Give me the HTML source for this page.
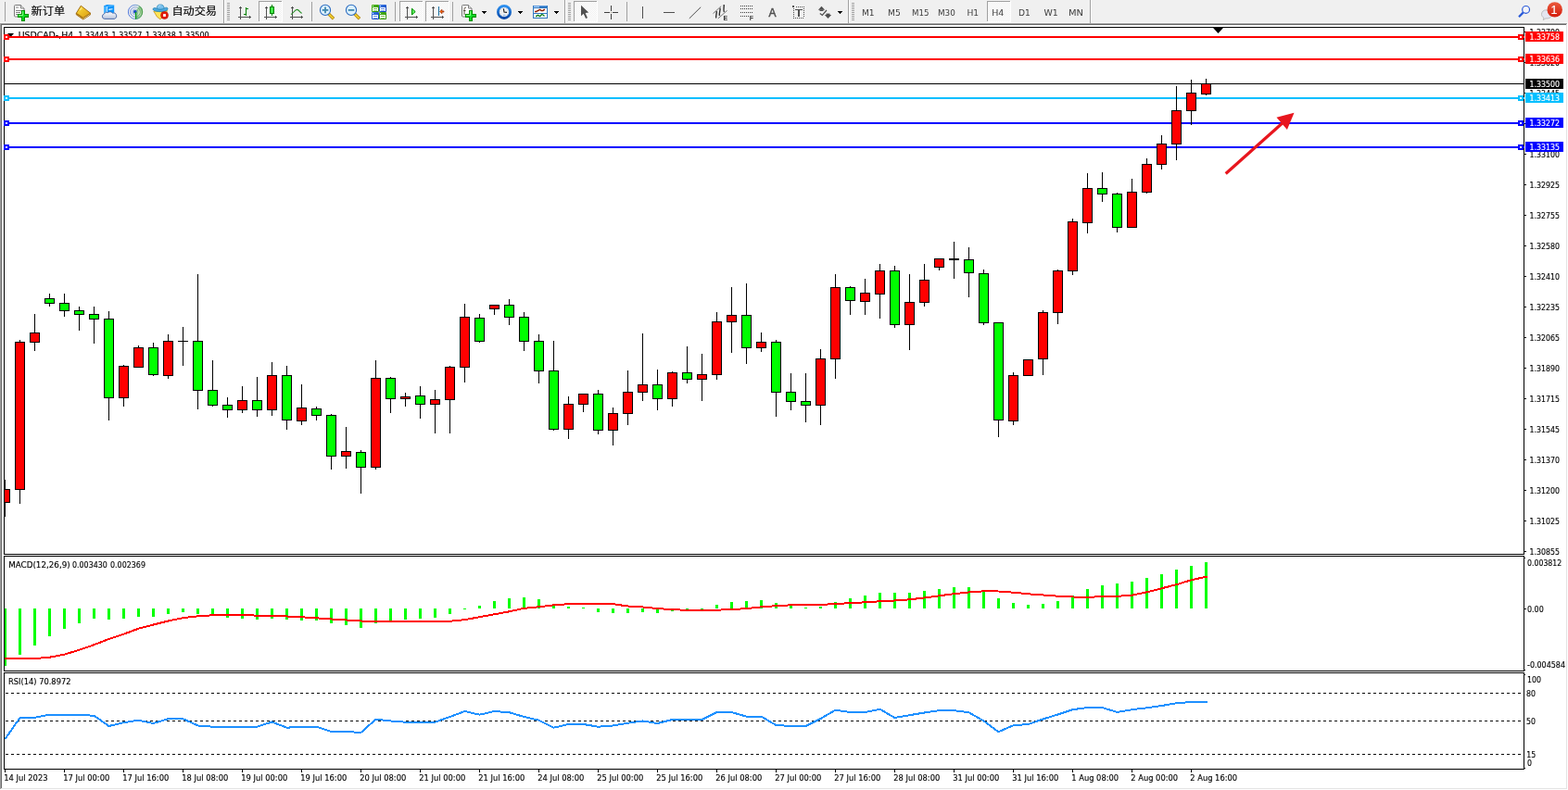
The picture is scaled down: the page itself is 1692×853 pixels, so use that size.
<!DOCTYPE html>
<html lang="zh"><head><meta charset="utf-8"><title>USDCAD,H4</title>
<style>html,body{margin:0;padding:0;background:#fff;overflow:hidden}svg{display:block}text{font-family:"DejaVu Sans","Liberation Sans",sans-serif;white-space:pre;stroke-width:0.14px}.cj{font-family:"Liberation Sans","Noto Sans CJK SC",sans-serif}.ls{font-family:"Liberation Sans",sans-serif;stroke:none}.la{font-family:"Liberation Sans",sans-serif;stroke-width:0.5px}.l1{font-family:"Liberation Sans",sans-serif;stroke-width:0.15px}</style>
</head><body>
<svg width="1692" height="853" viewBox="0 0 1692 853" shape-rendering="crispEdges">
<defs><clipPath id="cm"><rect x="5" y="30" width="1639" height="568"/></clipPath><clipPath id="cd"><rect x="5" y="601" width="1639" height="123"/></clipPath><clipPath id="cr"><rect x="5" y="727" width="1639" height="103"/></clipPath></defs>
<rect x="0" y="0" width="1692" height="853" fill="#fff"/>
<g id="toolbar">
<defs><linearGradient id="gp" x1="0" y1="0" x2="1" y2="1"><stop offset="0" stop-color="#9cff9c"/><stop offset="0.5" stop-color="#18e830"/><stop offset="1" stop-color="#00b818"/></linearGradient><linearGradient id="gold" x1="0" y1="0" x2="1" y2="1"><stop offset="0" stop-color="#ffe040"/><stop offset="1" stop-color="#d89a10"/></linearGradient><linearGradient id="cloud" x1="0" y1="0" x2="0" y2="1"><stop offset="0" stop-color="#ffffff"/><stop offset="1" stop-color="#b8c4dc"/></linearGradient><linearGradient id="badge" x1="0" y1="0" x2="0" y2="1"><stop offset="0" stop-color="#ea5a3c"/><stop offset="1" stop-color="#d41c0c"/></linearGradient><linearGradient id="clk" x1="0" y1="0" x2="0" y2="1"><stop offset="0" stop-color="#2c90f0"/><stop offset="1" stop-color="#0848a8"/></linearGradient><linearGradient id="tb" x1="0" y1="0" x2="1" y2="1"><stop offset="0" stop-color="#4080e8"/><stop offset="1" stop-color="#0838b8"/></linearGradient><linearGradient id="tg" x1="0" y1="0" x2="1" y2="1"><stop offset="0" stop-color="#50b818"/><stop offset="1" stop-color="#2c8c08"/></linearGradient><radialGradient id="sig" cx="0.5" cy="0.5" r="0.5"><stop offset="0" stop-color="#e8f4e0"/><stop offset="1" stop-color="#58b050"/></radialGradient><linearGradient id="ring" x1="0" y1="0" x2="1" y2="0"><stop offset="0" stop-color="#3060d8"/><stop offset="0.55" stop-color="#6090d0"/><stop offset="1" stop-color="#489848"/></linearGradient><pattern id="dith" width="2" height="2" patternUnits="userSpaceOnUse"><rect width="2" height="2" fill="#fff"/><rect width="1" height="1" fill="#f0f0f0"/><rect x="1" y="1" width="1" height="1" fill="#f0f0f0"/></pattern></defs>
<rect x="0" y="0" width="1692" height="25" fill="#f0f0f0"/>
<rect x="0" y="24" width="1692" height="1" fill="#f8f8f8"/>
<rect x="5" y="2" width="1" height="21" fill="#a0a0a0"/>
<rect x="336" y="2" width="1" height="21" fill="#a0a0a0"/>
<rect x="426" y="2" width="1" height="21" fill="#a0a0a0"/>
<rect x="488" y="2" width="1" height="21" fill="#a0a0a0"/>
<rect x="676" y="2" width="1" height="21" fill="#a0a0a0"/>
<rect x="241" y="0" width="1" height="25" fill="#a0a0a0"/>
<rect x="242" y="0" width="1" height="25" fill="#fff"/>
<rect x="245" y="3" width="3" height="1" fill="#a0a0a0"/>
<rect x="245" y="5" width="3" height="1" fill="#a0a0a0"/>
<rect x="245" y="7" width="3" height="1" fill="#a0a0a0"/>
<rect x="245" y="9" width="3" height="1" fill="#a0a0a0"/>
<rect x="245" y="11" width="3" height="1" fill="#a0a0a0"/>
<rect x="245" y="13" width="3" height="1" fill="#a0a0a0"/>
<rect x="245" y="15" width="3" height="1" fill="#a0a0a0"/>
<rect x="245" y="17" width="3" height="1" fill="#a0a0a0"/>
<rect x="245" y="19" width="3" height="1" fill="#a0a0a0"/>
<rect x="245" y="21" width="3" height="1" fill="#a0a0a0"/>
<rect x="609" y="0" width="1" height="25" fill="#a0a0a0"/>
<rect x="610" y="0" width="1" height="25" fill="#fff"/>
<rect x="613" y="3" width="3" height="1" fill="#a0a0a0"/>
<rect x="613" y="5" width="3" height="1" fill="#a0a0a0"/>
<rect x="613" y="7" width="3" height="1" fill="#a0a0a0"/>
<rect x="613" y="9" width="3" height="1" fill="#a0a0a0"/>
<rect x="613" y="11" width="3" height="1" fill="#a0a0a0"/>
<rect x="613" y="13" width="3" height="1" fill="#a0a0a0"/>
<rect x="613" y="15" width="3" height="1" fill="#a0a0a0"/>
<rect x="613" y="17" width="3" height="1" fill="#a0a0a0"/>
<rect x="613" y="19" width="3" height="1" fill="#a0a0a0"/>
<rect x="613" y="21" width="3" height="1" fill="#a0a0a0"/>
<rect x="915" y="0" width="1" height="25" fill="#a0a0a0"/>
<rect x="916" y="0" width="1" height="25" fill="#fff"/>
<rect x="919" y="3" width="3" height="1" fill="#a0a0a0"/>
<rect x="919" y="5" width="3" height="1" fill="#a0a0a0"/>
<rect x="919" y="7" width="3" height="1" fill="#a0a0a0"/>
<rect x="919" y="9" width="3" height="1" fill="#a0a0a0"/>
<rect x="919" y="11" width="3" height="1" fill="#a0a0a0"/>
<rect x="919" y="13" width="3" height="1" fill="#a0a0a0"/>
<rect x="919" y="15" width="3" height="1" fill="#a0a0a0"/>
<rect x="919" y="17" width="3" height="1" fill="#a0a0a0"/>
<rect x="919" y="19" width="3" height="1" fill="#a0a0a0"/>
<rect x="919" y="21" width="3" height="1" fill="#a0a0a0"/>
<rect x="1176" y="0" width="1" height="25" fill="#a0a0a0"/>
<rect x="1177" y="0" width="1" height="25" fill="#fff"/>
<rect x="279" y="1" width="26" height="23" fill="url(#dith)"/>
<rect x="279" y="1" width="25" height="1" fill="#a0a0a0"/>
<rect x="279" y="1" width="1" height="22" fill="#a0a0a0"/>
<rect x="304" y="1" width="1" height="23" fill="#fff"/>
<rect x="279" y="23" width="26" height="1" fill="#fff"/>
<rect x="431" y="1" width="26" height="23" fill="url(#dith)"/>
<rect x="431" y="1" width="25" height="1" fill="#a0a0a0"/>
<rect x="431" y="1" width="1" height="22" fill="#a0a0a0"/>
<rect x="456" y="1" width="1" height="23" fill="#fff"/>
<rect x="431" y="23" width="26" height="1" fill="#fff"/>
<rect x="459" y="1" width="26" height="23" fill="url(#dith)"/>
<rect x="459" y="1" width="25" height="1" fill="#a0a0a0"/>
<rect x="459" y="1" width="1" height="22" fill="#a0a0a0"/>
<rect x="484" y="1" width="1" height="23" fill="#fff"/>
<rect x="459" y="23" width="26" height="1" fill="#fff"/>
<rect x="619" y="1" width="26" height="23" fill="url(#dith)"/>
<rect x="619" y="1" width="25" height="1" fill="#a0a0a0"/>
<rect x="619" y="1" width="1" height="22" fill="#a0a0a0"/>
<rect x="644" y="1" width="1" height="23" fill="#fff"/>
<rect x="619" y="23" width="26" height="1" fill="#fff"/>
<rect x="1065" y="1" width="26" height="23" fill="url(#dith)"/>
<rect x="1065" y="1" width="25" height="1" fill="#a0a0a0"/>
<rect x="1065" y="1" width="1" height="22" fill="#a0a0a0"/>
<rect x="1090" y="1" width="1" height="23" fill="#fff"/>
<rect x="1065" y="23" width="26" height="1" fill="#fff"/>
<g shape-rendering="geometricPrecision"><path d="M15.5 6.5a1 1 0 0 1 1-1h6l3.5 3.5v8a1 1 0 0 1-1 1h-8.5a1 1 0 0 1-1-1z" fill="#fff" stroke="#787878" stroke-width="1"/><path d="M22.5 5.5v3.5h3.5" fill="#e8e8e8" stroke="#808080" stroke-width="1"/>
<path d="M17 8h3M17 11.5h6M17 13.5h5M17 15.5h3" fill="none" stroke="#808080" stroke-width="1"/>
</g>
<rect x="23" y="11" width="4" height="12" fill="#009000"/>
<rect x="19" y="15" width="12" height="4" fill="#009000"/>
<rect x="24" y="12" width="2" height="10" fill="#10e028"/>
<rect x="20" y="16" width="10" height="2" fill="#10e028"/>
<rect x="24" y="12" width="1" height="4" fill="#80ff80"/>
<rect x="20" y="16" width="4" height="1" fill="#80ff80"/>
<rect x="24" y="16" width="1" height="1" fill="#80ff80"/>
<rect x="25" y="19" width="1" height="3" fill="#00c018"/>
<rect x="27" y="17" width="3" height="1" fill="#00c018"/>
<g shape-rendering="geometricPrecision"><path d="M498.5 6.5a1 1 0 0 1 1-1h6l3.5 3.5v8a1 1 0 0 1-1 1h-8.5a1 1 0 0 1-1-1z" fill="#fff" stroke="#787878" stroke-width="1"/><path d="M505.5 5.5v3.5h3.5" fill="#e8e8e8" stroke="#808080" stroke-width="1"/>
<path d="M503 8c-1.8 0-2 1-2 2.5v5.5M500 11.5h2.5" fill="none" stroke="#484030" stroke-width="0.9"/>
</g>
<rect x="506" y="11" width="4" height="12" fill="#009000"/>
<rect x="502" y="15" width="12" height="4" fill="#009000"/>
<rect x="507" y="12" width="2" height="10" fill="#10e028"/>
<rect x="503" y="16" width="10" height="2" fill="#10e028"/>
<rect x="507" y="12" width="1" height="4" fill="#80ff80"/>
<rect x="503" y="16" width="4" height="1" fill="#80ff80"/>
<rect x="507" y="16" width="1" height="1" fill="#80ff80"/>
<rect x="508" y="19" width="1" height="3" fill="#00c018"/>
<rect x="510" y="17" width="3" height="1" fill="#00c018"/>
<text class="cj" x="33.6" y="16.1" font-size="11.3" fill="#000" stroke="#000" stroke-width="0.2" textLength="36.6" lengthAdjust="spacingAndGlyphs">新订单</text>
<g shape-rendering="geometricPrecision"><path d="M82.3 15.8L89.8 21L97.5 15.9L97.5 14.3L89.8 19.3L82.3 14.3z" fill="#d8b048" stroke="#9c6408" stroke-width="0.9" stroke-linejoin="round"/><path d="M89.8 20.2L97.3 15.2" stroke="#f4ecc0" stroke-width="0.7"/><path d="M87.3 6.2L97.6 14.2L89.8 19.3L82.3 14.3z" fill="url(#gold)" stroke="#9c6408" stroke-width="0.9" stroke-linejoin="round"/><path d="M86 11L88.5 8.5" stroke="#fff4a0" stroke-width="1.2" opacity="0.7"/></g>
<g shape-rendering="geometricPrecision"><path d="M112 6.2L115.5 5L123.2 5.6V14.5H112z" fill="#0c94fc"/><path d="M112 6.2L115.5 7.2V14.5H112z" fill="#48b4ff"/><path d="M115.5 7.2L123.2 5.6" stroke="#80ccff" stroke-width="0.7"/><path d="M115.5 7v7.5" stroke="#e0f4ff" stroke-width="0.8"/><path d="M117.3 10.4L121.5 9.7" stroke="#f0f8ff" stroke-width="1.1"/><path d="M112.8 20.4a2.7 2.7 0 0 1-0.4-5.3a3 3 0 0 1 4.2-1.5a3.1 3.1 0 0 1 4.7 0.5a2.6 2.6 0 0 1 2.3 6.3z" fill="url(#cloud)" stroke="#4464a4" stroke-width="0.9"/></g>
<g shape-rendering="geometricPrecision" fill="none"><path d="M146 12.9L146 20.9A8 8 0 0 0 150.6 6.3z" fill="url(#sig)" opacity="0.9"/><circle cx="146" cy="12.9" r="7.6" stroke="url(#ring)" stroke-width="1" opacity="0.85"/><circle cx="146" cy="12.9" r="5.3" stroke="url(#ring)" stroke-width="1" opacity="0.7"/><circle cx="146" cy="12.9" r="3.1" stroke="url(#ring)" stroke-width="0.9" opacity="0.55"/><circle cx="145.8" cy="12.7" r="1.9" fill="#2050c8"/><path d="M146.5 13v7.7" stroke="#10a010" stroke-width="1.2"/></g>
<g shape-rendering="geometricPrecision"><path d="M165.8 12L180.6 11.6L177 17L172.9 20.8L169.5 18.2z" fill="#ffe458" stroke="#c89010" stroke-width="0.8" stroke-linejoin="round"/><path d="M165.1 9.8C165.3 8.3 167.5 8.3 169.3 9.3C171.5 10.3 175 10.2 177 9C178.8 7.9 180.8 7.8 181 9.2C181.3 11.3 177.5 12.6 173.2 12.6C168.9 12.6 164.9 11.6 165.1 9.8z" fill="#4ca8e0" stroke="#2080b0" stroke-width="0.8"/><path d="M169.3 9.3C169.1 6.2 170.6 4.9 173.1 4.9C175.6 4.9 177.1 6.2 177 9C175 10.2 171.5 10.3 169.3 9.3z" fill="#78c0ee" stroke="#2484b4" stroke-width="0.7"/><path d="M170.9 7.3C171.4 6.3 172.3 5.9 173.4 6" fill="none" stroke="#c4e8fc" stroke-width="0.9"/><circle cx="177.5" cy="16.5" r="4" fill="#e41c08" stroke="#b41000" stroke-width="0.6"/><rect x="176.1" y="15.1" width="2.8" height="2.8" fill="#fff"/></g>
<text class="cj" x="185.4" y="16.1" font-size="11.3" fill="#000" stroke="#000" stroke-width="0.2" textLength="48.6" lengthAdjust="spacingAndGlyphs">自动交易</text>
<rect x="259" y="8" width="1" height="13" fill="#505050"/>
<rect x="257" y="18" width="13" height="1" fill="#505050"/>
<rect x="258" y="8" width="3" height="1" fill="#505050"/>
<rect x="259" y="7" width="1" height="1" fill="#505050"/>
<rect x="269" y="17" width="1" height="3" fill="#505050"/>
<rect x="270" y="18" width="1" height="1" fill="#505050"/>
<rect x="265" y="8" width="1" height="9" fill="#008000"/>
<rect x="266" y="9" width="2" height="1" fill="#008000"/>
<rect x="263" y="15" width="2" height="1" fill="#008000"/>
<rect x="287" y="8" width="1" height="13" fill="#505050"/>
<rect x="285" y="18" width="13" height="1" fill="#505050"/>
<rect x="286" y="8" width="3" height="1" fill="#505050"/>
<rect x="287" y="7" width="1" height="1" fill="#505050"/>
<rect x="297" y="17" width="1" height="3" fill="#505050"/>
<rect x="298" y="18" width="1" height="1" fill="#505050"/>
<rect x="293" y="5" width="1" height="12" fill="#008000"/>
<rect x="291" y="7" width="5" height="8" fill="#008000"/>
<rect x="292" y="8" width="3" height="6" fill="#40e848"/>
<rect x="315" y="8" width="1" height="13" fill="#505050"/>
<rect x="313" y="18" width="13" height="1" fill="#505050"/>
<rect x="314" y="8" width="3" height="1" fill="#505050"/>
<rect x="315" y="7" width="1" height="1" fill="#505050"/>
<rect x="325" y="17" width="1" height="3" fill="#505050"/>
<rect x="326" y="18" width="1" height="1" fill="#505050"/>
<path d="M314 15.6C317 14 318 10.4 320.5 10.4S323.5 13.8 325.8 14.3" fill="none" stroke="#289028" stroke-width="1.1" shape-rendering="geometricPrecision"/>
<rect x="439" y="8" width="1" height="13" fill="#505050"/>
<rect x="437" y="18" width="13" height="1" fill="#505050"/>
<rect x="438" y="8" width="3" height="1" fill="#505050"/>
<rect x="439" y="7" width="1" height="1" fill="#505050"/>
<rect x="449" y="17" width="1" height="3" fill="#505050"/>
<rect x="450" y="18" width="1" height="1" fill="#505050"/>
<path d="M444.5 9.2L448.2 12.6L444.5 16z" fill="#60f060" stroke="#009000" stroke-width="1" stroke-linejoin="round" shape-rendering="geometricPrecision"/>
<rect x="467" y="8" width="1" height="13" fill="#505050"/>
<rect x="465" y="18" width="13" height="1" fill="#505050"/>
<rect x="466" y="8" width="3" height="1" fill="#505050"/>
<rect x="467" y="7" width="1" height="1" fill="#505050"/>
<rect x="477" y="17" width="1" height="3" fill="#505050"/>
<rect x="478" y="18" width="1" height="1" fill="#505050"/>
<rect x="473" y="7" width="1" height="10" fill="#1a70a0"/>
<path d="M474.5 12.5L477 10.2V11.9H479V13.1H477V14.8z" fill="#f06810" stroke="#902000" stroke-width="0.6" shape-rendering="geometricPrecision"/>
<g shape-rendering="geometricPrecision"><path d="M354.6 14.9L360 20.3" stroke="#b08008" stroke-width="3.4" stroke-linecap="butt"/><path d="M355 15.3L359.6 19.9" stroke="#f0d030" stroke-width="1.8"/><circle cx="351" cy="10.9" r="5.6" fill="#dcf0fc" stroke="#2c6cc0" stroke-width="1.1"/><path d="M347.7 10.9h6.6" stroke="#4088b0" stroke-width="1.8"/><path d="M351 7.6v6.6" stroke="#4088b0" stroke-width="1.8"/></g>
<g shape-rendering="geometricPrecision"><path d="M382.6 14.9L388 20.3" stroke="#b08008" stroke-width="3.4" stroke-linecap="butt"/><path d="M383 15.3L387.6 19.9" stroke="#f0d030" stroke-width="1.8"/><circle cx="379" cy="10.9" r="5.6" fill="#dcf0fc" stroke="#2c6cc0" stroke-width="1.1"/><path d="M375.7 10.9h6.6" stroke="#4088b0" stroke-width="1.8"/></g>
<rect x="401" y="5" width="8" height="8" rx="1" fill="url(#tg)" shape-rendering="geometricPrecision"/>
<rect x="402" y="8" width="6" height="4" fill="#fff"/>
<rect x="402" y="6" width="1" height="1" fill="#e0f0ff"/>
<rect x="403" y="9" width="4" height="1" fill="#78c050"/>
<rect x="403" y="11" width="4" height="1" fill="#a0d488"/>
<rect x="409" y="5" width="8" height="8" rx="1" fill="url(#tb)" shape-rendering="geometricPrecision"/>
<rect x="410" y="8" width="6" height="4" fill="#fff"/>
<rect x="410" y="6" width="1" height="1" fill="#e0f0ff"/>
<rect x="411" y="9" width="4" height="1" fill="#6890e0"/>
<rect x="411" y="11" width="4" height="1" fill="#90b0f0"/>
<rect x="401" y="13" width="8" height="8" rx="1" fill="url(#tb)" shape-rendering="geometricPrecision"/>
<rect x="402" y="16" width="6" height="4" fill="#fff"/>
<rect x="402" y="14" width="1" height="1" fill="#e0f0ff"/>
<rect x="403" y="17" width="4" height="1" fill="#6890e0"/>
<rect x="403" y="19" width="4" height="1" fill="#90b0f0"/>
<rect x="409" y="13" width="8" height="8" rx="1" fill="url(#tg)" shape-rendering="geometricPrecision"/>
<rect x="410" y="16" width="6" height="4" fill="#fff"/>
<rect x="410" y="14" width="1" height="1" fill="#e0f0ff"/>
<rect x="411" y="17" width="4" height="1" fill="#78c050"/>
<rect x="411" y="19" width="4" height="1" fill="#a0d488"/>
<rect x="520" y="12" width="5" height="1" fill="#000"/>
<rect x="521" y="13" width="3" height="1" fill="#000"/>
<rect x="522" y="14" width="1" height="1" fill="#000"/>
<rect x="559" y="12" width="5" height="1" fill="#000"/>
<rect x="560" y="13" width="3" height="1" fill="#000"/>
<rect x="561" y="14" width="1" height="1" fill="#000"/>
<rect x="598" y="12" width="5" height="1" fill="#000"/>
<rect x="599" y="13" width="3" height="1" fill="#000"/>
<rect x="600" y="14" width="1" height="1" fill="#000"/>
<rect x="904" y="12" width="5" height="1" fill="#000"/>
<rect x="905" y="13" width="3" height="1" fill="#000"/>
<rect x="906" y="14" width="1" height="1" fill="#000"/>
<g shape-rendering="geometricPrecision"><circle cx="544" cy="12.9" r="6.6" fill="#eef0f4" stroke="url(#clk)" stroke-width="2.8"/><circle cx="544" cy="12.9" r="4.3" fill="none" stroke="#a0a8b0" stroke-width="0.8" stroke-dasharray="0.7 1.55"/><path d="M543.4 9.3L544 13L547 13.4" fill="none" stroke="#181818" stroke-width="1.1"/><path d="M543 16.3h2.2" stroke="#60a0e8" stroke-width="0.8"/></g>
<rect x="575" y="6" width="16" height="14" fill="#3078c0"/>
<rect x="576" y="6" width="14" height="1" fill="#5898e0"/>
<rect x="576" y="7" width="6" height="1" fill="#b8d8f8"/>
<rect x="576" y="9" width="14" height="5" fill="#fff"/>
<rect x="576" y="15" width="14" height="4" fill="#fff"/>
<path d="M577 12.5h2l1-1h1l1-1h1l1 1h2l1-1h1" fill="none" stroke="#902000" stroke-width="1.3" shape-rendering="geometricPrecision"/>
<path d="M578 17.5h1l1-1h1l1 1h1l1.5-2l1.5 0.5l1.5 1.5" fill="none" stroke="#108020" stroke-width="1.3" shape-rendering="geometricPrecision"/>
<path d="M627 5.8V17.2L629.7 14.7L632.1 20L634 19.2L631.6 13.9L635.2 13.5z" fill="#505050" shape-rendering="geometricPrecision"/>
<rect x="652" y="13" width="6" height="1" fill="#404040"/>
<rect x="661" y="13" width="6" height="1" fill="#404040"/>
<rect x="659" y="6" width="1" height="6" fill="#404040"/>
<rect x="659" y="15" width="1" height="6" fill="#404040"/>
<rect x="659" y="13" width="1" height="1" fill="#a09880"/>
<rect x="693" y="7" width="1" height="13" fill="#505050"/>
<rect x="716" y="13" width="12" height="1" fill="#505050"/>
<path d="M743.8 19.9L756.2 7.7" stroke="#505050" stroke-width="1" shape-rendering="geometricPrecision"/>
<g shape-rendering="geometricPrecision" fill="none"><path d="M769.5 14.6L778.2 6.7M774.8 20L784.6 11.4" stroke="#686868" stroke-width="0.9"/><path d="M773.2 12C773.8 14 772 17.5 772.8 19.6M777 8.8C777.6 11 775.6 14.5 776.4 17M781.2 5C781.6 7.5 780.2 10.5 781.4 13" stroke="#303030" stroke-width="1.4"/></g>
<text x="780.6" y="22" font-size="7" font-weight="bold" fill="#303030" class="ls">E</text>
<rect x="799" y="6" width="1" height="1" fill="#404040"/>
<rect x="801" y="6" width="1" height="1" fill="#404040"/>
<rect x="803" y="6" width="1" height="1" fill="#404040"/>
<rect x="805" y="6" width="1" height="1" fill="#404040"/>
<rect x="807" y="6" width="1" height="1" fill="#404040"/>
<rect x="809" y="6" width="1" height="1" fill="#404040"/>
<rect x="811" y="6" width="1" height="1" fill="#404040"/>
<rect x="799" y="9" width="1" height="1" fill="#404040"/>
<rect x="801" y="9" width="1" height="1" fill="#404040"/>
<rect x="803" y="9" width="1" height="1" fill="#404040"/>
<rect x="805" y="9" width="1" height="1" fill="#404040"/>
<rect x="807" y="9" width="1" height="1" fill="#404040"/>
<rect x="809" y="9" width="1" height="1" fill="#404040"/>
<rect x="811" y="9" width="1" height="1" fill="#404040"/>
<rect x="799" y="13" width="1" height="1" fill="#404040"/>
<rect x="801" y="13" width="1" height="1" fill="#404040"/>
<rect x="803" y="13" width="1" height="1" fill="#404040"/>
<rect x="805" y="13" width="1" height="1" fill="#404040"/>
<rect x="807" y="13" width="1" height="1" fill="#404040"/>
<rect x="809" y="13" width="1" height="1" fill="#404040"/>
<rect x="811" y="13" width="1" height="1" fill="#404040"/>
<rect x="799" y="17" width="1" height="1" fill="#404040"/>
<rect x="801" y="17" width="1" height="1" fill="#404040"/>
<rect x="803" y="17" width="1" height="1" fill="#404040"/>
<rect x="805" y="17" width="1" height="1" fill="#404040"/>
<rect x="807" y="17" width="1" height="1" fill="#404040"/>
<text x="808.7" y="22" font-size="7" font-weight="bold" fill="#404040" class="ls">F</text>
<text x="829.6" y="18" font-size="12.5" fill="#505050" stroke="#505050" class="la" textLength="8" lengthAdjust="spacingAndGlyphs">A</text>
<rect x="859" y="7" width="1" height="1" fill="#505050"/>
<rect x="856" y="9" width="1" height="1" fill="#505050"/>
<rect x="867" y="9" width="1" height="1" fill="#505050"/>
<rect x="861" y="7" width="1" height="1" fill="#505050"/>
<rect x="856" y="11" width="1" height="1" fill="#505050"/>
<rect x="867" y="11" width="1" height="1" fill="#505050"/>
<rect x="863" y="7" width="1" height="1" fill="#505050"/>
<rect x="856" y="13" width="1" height="1" fill="#505050"/>
<rect x="867" y="13" width="1" height="1" fill="#505050"/>
<rect x="865" y="7" width="1" height="1" fill="#505050"/>
<rect x="856" y="15" width="1" height="1" fill="#505050"/>
<rect x="867" y="15" width="1" height="1" fill="#505050"/>
<rect x="867" y="7" width="1" height="1" fill="#505050"/>
<rect x="856" y="17" width="1" height="1" fill="#505050"/>
<rect x="867" y="17" width="1" height="1" fill="#505050"/>
<rect x="856" y="19" width="1" height="1" fill="#505050"/>
<rect x="858" y="19" width="1" height="1" fill="#505050"/>
<rect x="860" y="19" width="1" height="1" fill="#505050"/>
<rect x="862" y="19" width="1" height="1" fill="#505050"/>
<rect x="864" y="19" width="1" height="1" fill="#505050"/>
<rect x="866" y="19" width="1" height="1" fill="#505050"/>
<rect x="855" y="6" width="2" height="2" fill="#505050"/>
<rect x="858" y="10" width="8" height="1" fill="#505050"/>
<rect x="861" y="10" width="2" height="8" fill="#505050"/>
<g shape-rendering="geometricPrecision" fill="#505050"><path d="M886.5 6.8L890.2 10.8H882.8z"/><rect x="884.5" y="10.5" width="4" height="1.5"/><path d="M893.5 19.9L889.8 15.9H897.2z"/><rect x="891.5" y="14.6" width="4" height="1.5"/><path d="M884.8 14.5L887.3 16.5L892 11" fill="none" stroke="#505050" stroke-width="1.2"/></g>
<text x="929.9" y="17" font-size="9" fill="#404040" textLength="13.7" lengthAdjust="spacingAndGlyphs">M1</text>
<text x="958" y="17" font-size="9" fill="#404040" textLength="13.7" lengthAdjust="spacingAndGlyphs">M5</text>
<text x="984.1" y="17" font-size="9" fill="#404040" textLength="18.5" lengthAdjust="spacingAndGlyphs">M15</text>
<text x="1011.9" y="17" font-size="9" fill="#404040" textLength="18.9" lengthAdjust="spacingAndGlyphs">M30</text>
<text x="1043.4" y="17" font-size="9" fill="#404040" textLength="12.7" lengthAdjust="spacingAndGlyphs">H1</text>
<text x="1070.2" y="17" font-size="9" fill="#404040" textLength="13.2" lengthAdjust="spacingAndGlyphs">H4</text>
<text x="1099.1" y="17" font-size="9" fill="#404040" textLength="12.8" lengthAdjust="spacingAndGlyphs">D1</text>
<text x="1126.5" y="17" font-size="9" fill="#404040" textLength="15.3" lengthAdjust="spacingAndGlyphs">W1</text>
<text x="1152.9" y="17" font-size="9" fill="#404040" textLength="16" lengthAdjust="spacingAndGlyphs">MN</text>
<g shape-rendering="geometricPrecision"><circle cx="1646.6" cy="10.4" r="3.9" fill="#f4f4f8" stroke="#2858d8" stroke-width="1.2"/><path d="M1643.8 13.4L1639 18.2" stroke="#2858d8" stroke-width="2.2"/><path d="M1668.5 10.8c-3 0-5 2-5 4.6c0 1.6 1 3 2.4 3.8l-0.6 2.4l2.6-1.7c3.5 0.4 7-1.5 7-4.5z" fill="#e4e6f0" stroke="#b0b0b0" stroke-width="0.8"/><circle cx="1677.7" cy="10.4" r="8.2" fill="url(#badge)"/></g>
<text x="1673.4" y="14.8" font-size="12.5" fill="#fff" stroke="#fff" stroke-width="0.4" class="l1">1</text>
</g>
<rect x="0" y="25" width="1691" height="1" fill="#a0a0a0"/>
<rect x="0" y="26" width="1690" height="1" fill="#696969"/>
<rect x="0" y="25" width="1" height="827" fill="#a0a0a0"/>
<rect x="1" y="26" width="1" height="826" fill="#696969"/>
<rect x="1690" y="26" width="1" height="826" fill="#e3e3e3"/>
<rect x="1" y="851" width="1690" height="1" fill="#e3e3e3"/>
<rect x="1691" y="25" width="1" height="828" fill="#fff"/>
<rect x="0" y="852" width="1692" height="1" fill="#fff"/>
<rect x="4" y="29" width="1641" height="1" fill="#000"/>
<rect x="4" y="598" width="1641" height="1" fill="#000"/>
<rect x="4" y="29" width="1" height="570" fill="#000"/>
<rect x="1644" y="29" width="1" height="570" fill="#000"/>
<rect x="4" y="600" width="1641" height="1" fill="#000"/>
<rect x="4" y="724" width="1641" height="1" fill="#000"/>
<rect x="4" y="600" width="1" height="125" fill="#000"/>
<rect x="1644" y="600" width="1" height="125" fill="#000"/>
<rect x="4" y="726" width="1641" height="1" fill="#000"/>
<rect x="4" y="830" width="1641" height="1" fill="#000"/>
<rect x="4" y="726" width="1" height="105" fill="#000"/>
<rect x="1644" y="726" width="1" height="105" fill="#000"/>
<path d="M8 36h7l-3.5 4z" fill="#000" shape-rendering="geometricPrecision"/>
<text y="41" font-size="9" fill="#000" stroke="#000"><tspan x="19.7" textLength="59.5" lengthAdjust="spacingAndGlyphs">USDCAD-,H4</tspan><tspan x="79.4" textLength="37.5" lengthAdjust="spacingAndGlyphs">  1.33443</tspan><tspan x="118.1" textLength="35.3" lengthAdjust="spacingAndGlyphs"> 1.33527</tspan><tspan x="154.4" textLength="35.3" lengthAdjust="spacingAndGlyphs"> 1.33438</tspan><tspan x="189.9" textLength="35.8" lengthAdjust="spacingAndGlyphs"> 1.33500</tspan></text>
<path d="M1309 30h11l-5.5 6z" fill="#000" shape-rendering="geometricPrecision"/>
<rect x="5" y="90" width="1639" height="1" fill="#000"/>
<rect x="5" y="39" width="1640" height="2" fill="#ff0000"/>
<rect x="4" y="37" width="6" height="6" fill="#ff0000"/>
<rect x="6" y="39" width="2" height="2" fill="#fff"/>
<rect x="1638" y="37" width="6" height="6" fill="#ff0000"/>
<rect x="1640" y="39" width="2" height="2" fill="#fff"/>
<rect x="5" y="63" width="1640" height="2" fill="#ff0000"/>
<rect x="4" y="61" width="6" height="6" fill="#ff0000"/>
<rect x="6" y="63" width="2" height="2" fill="#fff"/>
<rect x="1638" y="61" width="6" height="6" fill="#ff0000"/>
<rect x="1640" y="63" width="2" height="2" fill="#fff"/>
<rect x="5" y="105" width="1640" height="2" fill="#00bfff"/>
<rect x="4" y="103" width="6" height="6" fill="#00bfff"/>
<rect x="6" y="105" width="2" height="2" fill="#fff"/>
<rect x="1638" y="103" width="6" height="6" fill="#00bfff"/>
<rect x="1640" y="105" width="2" height="2" fill="#fff"/>
<rect x="5" y="132" width="1640" height="2" fill="#0000ff"/>
<rect x="4" y="130" width="6" height="6" fill="#0000ff"/>
<rect x="6" y="132" width="2" height="2" fill="#fff"/>
<rect x="1638" y="130" width="6" height="6" fill="#0000ff"/>
<rect x="1640" y="132" width="2" height="2" fill="#fff"/>
<rect x="5" y="158" width="1640" height="2" fill="#0000ff"/>
<rect x="4" y="156" width="6" height="6" fill="#0000ff"/>
<rect x="6" y="158" width="2" height="2" fill="#fff"/>
<rect x="1638" y="156" width="6" height="6" fill="#0000ff"/>
<rect x="1640" y="158" width="2" height="2" fill="#fff"/>
<g clip-path="url(#cm)">
<rect x="5" y="518" width="1" height="40" fill="#000"/>
<rect x="0" y="528" width="11" height="15" fill="#000"/>
<rect x="1" y="529" width="9" height="13" fill="#ff0000"/>
<rect x="21" y="367" width="1" height="177" fill="#000"/>
<rect x="16" y="369" width="11" height="160" fill="#000"/>
<rect x="17" y="370" width="9" height="158" fill="#ff0000"/>
<rect x="37" y="339" width="1" height="40" fill="#000"/>
<rect x="32" y="359" width="11" height="11" fill="#000"/>
<rect x="33" y="360" width="9" height="9" fill="#ff0000"/>
<rect x="53" y="317" width="1" height="14" fill="#000"/>
<rect x="48" y="322" width="11" height="6" fill="#000"/>
<rect x="49" y="323" width="9" height="4" fill="#00ff00"/>
<rect x="69" y="317" width="1" height="25" fill="#000"/>
<rect x="64" y="327" width="11" height="9" fill="#000"/>
<rect x="65" y="328" width="9" height="7" fill="#00ff00"/>
<rect x="85" y="331" width="1" height="26" fill="#000"/>
<rect x="80" y="335" width="11" height="5" fill="#000"/>
<rect x="81" y="336" width="9" height="3" fill="#00ff00"/>
<rect x="101" y="331" width="1" height="40" fill="#000"/>
<rect x="96" y="339" width="11" height="6" fill="#000"/>
<rect x="97" y="340" width="9" height="4" fill="#00ff00"/>
<rect x="117" y="336" width="1" height="118" fill="#000"/>
<rect x="112" y="344" width="11" height="86" fill="#000"/>
<rect x="113" y="345" width="9" height="84" fill="#00ff00"/>
<rect x="133" y="394" width="1" height="45" fill="#000"/>
<rect x="128" y="395" width="11" height="35" fill="#000"/>
<rect x="129" y="396" width="9" height="33" fill="#ff0000"/>
<rect x="149" y="373" width="1" height="24" fill="#000"/>
<rect x="144" y="375" width="11" height="22" fill="#000"/>
<rect x="145" y="376" width="9" height="20" fill="#ff0000"/>
<rect x="165" y="370" width="1" height="36" fill="#000"/>
<rect x="160" y="375" width="11" height="30" fill="#000"/>
<rect x="161" y="376" width="9" height="28" fill="#00ff00"/>
<rect x="181" y="361" width="1" height="48" fill="#000"/>
<rect x="176" y="368" width="11" height="38" fill="#000"/>
<rect x="177" y="369" width="9" height="36" fill="#ff0000"/>
<rect x="197" y="353" width="1" height="42" fill="#000"/>
<rect x="192" y="368" width="11" height="1" fill="#000"/>
<rect x="213" y="296" width="1" height="146" fill="#000"/>
<rect x="208" y="368" width="11" height="54" fill="#000"/>
<rect x="209" y="369" width="9" height="52" fill="#00ff00"/>
<rect x="229" y="389" width="1" height="50" fill="#000"/>
<rect x="224" y="421" width="11" height="17" fill="#000"/>
<rect x="225" y="422" width="9" height="15" fill="#00ff00"/>
<rect x="245" y="429" width="1" height="22" fill="#000"/>
<rect x="240" y="437" width="11" height="6" fill="#000"/>
<rect x="241" y="438" width="9" height="4" fill="#00ff00"/>
<rect x="261" y="417" width="1" height="29" fill="#000"/>
<rect x="256" y="432" width="11" height="11" fill="#000"/>
<rect x="257" y="433" width="9" height="9" fill="#ff0000"/>
<rect x="277" y="407" width="1" height="43" fill="#000"/>
<rect x="272" y="432" width="11" height="11" fill="#000"/>
<rect x="273" y="433" width="9" height="9" fill="#00ff00"/>
<rect x="293" y="391" width="1" height="58" fill="#000"/>
<rect x="288" y="405" width="11" height="38" fill="#000"/>
<rect x="289" y="406" width="9" height="36" fill="#ff0000"/>
<rect x="309" y="395" width="1" height="69" fill="#000"/>
<rect x="304" y="405" width="11" height="49" fill="#000"/>
<rect x="305" y="406" width="9" height="47" fill="#00ff00"/>
<rect x="325" y="415" width="1" height="44" fill="#000"/>
<rect x="320" y="440" width="11" height="15" fill="#000"/>
<rect x="321" y="441" width="9" height="13" fill="#ff0000"/>
<rect x="341" y="439" width="1" height="15" fill="#000"/>
<rect x="336" y="441" width="11" height="8" fill="#000"/>
<rect x="337" y="442" width="9" height="6" fill="#00ff00"/>
<rect x="357" y="447" width="1" height="60" fill="#000"/>
<rect x="352" y="448" width="11" height="45" fill="#000"/>
<rect x="353" y="449" width="9" height="43" fill="#00ff00"/>
<rect x="373" y="461" width="1" height="45" fill="#000"/>
<rect x="368" y="487" width="11" height="6" fill="#000"/>
<rect x="369" y="488" width="9" height="4" fill="#ff0000"/>
<rect x="389" y="486" width="1" height="47" fill="#000"/>
<rect x="384" y="488" width="11" height="17" fill="#000"/>
<rect x="385" y="489" width="9" height="15" fill="#00ff00"/>
<rect x="405" y="389" width="1" height="118" fill="#000"/>
<rect x="400" y="408" width="11" height="97" fill="#000"/>
<rect x="401" y="409" width="9" height="95" fill="#ff0000"/>
<rect x="421" y="407" width="1" height="39" fill="#000"/>
<rect x="416" y="408" width="11" height="23" fill="#000"/>
<rect x="417" y="409" width="9" height="21" fill="#00ff00"/>
<rect x="437" y="424" width="1" height="15" fill="#000"/>
<rect x="432" y="428" width="11" height="3" fill="#000"/>
<rect x="433" y="429" width="9" height="1" fill="#ff0000"/>
<rect x="453" y="417" width="1" height="35" fill="#000"/>
<rect x="448" y="427" width="11" height="10" fill="#000"/>
<rect x="449" y="428" width="9" height="8" fill="#00ff00"/>
<rect x="469" y="421" width="1" height="47" fill="#000"/>
<rect x="464" y="431" width="11" height="6" fill="#000"/>
<rect x="465" y="432" width="9" height="4" fill="#ff0000"/>
<rect x="485" y="395" width="1" height="73" fill="#000"/>
<rect x="480" y="396" width="11" height="36" fill="#000"/>
<rect x="481" y="397" width="9" height="34" fill="#ff0000"/>
<rect x="501" y="328" width="1" height="85" fill="#000"/>
<rect x="496" y="342" width="11" height="55" fill="#000"/>
<rect x="497" y="343" width="9" height="53" fill="#ff0000"/>
<rect x="517" y="339" width="1" height="31" fill="#000"/>
<rect x="512" y="343" width="11" height="26" fill="#000"/>
<rect x="513" y="344" width="9" height="24" fill="#00ff00"/>
<rect x="533" y="329" width="1" height="11" fill="#000"/>
<rect x="528" y="329" width="11" height="5" fill="#000"/>
<rect x="529" y="330" width="9" height="3" fill="#ff0000"/>
<rect x="549" y="323" width="1" height="28" fill="#000"/>
<rect x="544" y="329" width="11" height="14" fill="#000"/>
<rect x="545" y="330" width="9" height="12" fill="#00ff00"/>
<rect x="565" y="337" width="1" height="42" fill="#000"/>
<rect x="560" y="342" width="11" height="27" fill="#000"/>
<rect x="561" y="343" width="9" height="25" fill="#00ff00"/>
<rect x="581" y="361" width="1" height="53" fill="#000"/>
<rect x="576" y="368" width="11" height="33" fill="#000"/>
<rect x="577" y="369" width="9" height="31" fill="#00ff00"/>
<rect x="597" y="368" width="1" height="97" fill="#000"/>
<rect x="592" y="400" width="11" height="64" fill="#000"/>
<rect x="593" y="401" width="9" height="62" fill="#00ff00"/>
<rect x="613" y="428" width="1" height="46" fill="#000"/>
<rect x="608" y="436" width="11" height="28" fill="#000"/>
<rect x="609" y="437" width="9" height="26" fill="#ff0000"/>
<rect x="629" y="425" width="1" height="20" fill="#000"/>
<rect x="624" y="425" width="11" height="12" fill="#000"/>
<rect x="625" y="426" width="9" height="10" fill="#ff0000"/>
<rect x="645" y="421" width="1" height="48" fill="#000"/>
<rect x="640" y="425" width="11" height="40" fill="#000"/>
<rect x="641" y="426" width="9" height="38" fill="#00ff00"/>
<rect x="661" y="440" width="1" height="41" fill="#000"/>
<rect x="656" y="446" width="11" height="19" fill="#000"/>
<rect x="657" y="447" width="9" height="17" fill="#ff0000"/>
<rect x="677" y="400" width="1" height="59" fill="#000"/>
<rect x="672" y="423" width="11" height="24" fill="#000"/>
<rect x="673" y="424" width="9" height="22" fill="#ff0000"/>
<rect x="693" y="360" width="1" height="73" fill="#000"/>
<rect x="688" y="415" width="11" height="9" fill="#000"/>
<rect x="689" y="416" width="9" height="7" fill="#ff0000"/>
<rect x="709" y="399" width="1" height="44" fill="#000"/>
<rect x="704" y="415" width="11" height="16" fill="#000"/>
<rect x="705" y="416" width="9" height="14" fill="#00ff00"/>
<rect x="725" y="401" width="1" height="38" fill="#000"/>
<rect x="720" y="402" width="11" height="29" fill="#000"/>
<rect x="721" y="403" width="9" height="27" fill="#ff0000"/>
<rect x="741" y="374" width="1" height="40" fill="#000"/>
<rect x="736" y="402" width="11" height="8" fill="#000"/>
<rect x="737" y="403" width="9" height="6" fill="#00ff00"/>
<rect x="757" y="382" width="1" height="51" fill="#000"/>
<rect x="752" y="404" width="11" height="6" fill="#000"/>
<rect x="753" y="405" width="9" height="4" fill="#ff0000"/>
<rect x="773" y="337" width="1" height="73" fill="#000"/>
<rect x="768" y="347" width="11" height="58" fill="#000"/>
<rect x="769" y="348" width="9" height="56" fill="#ff0000"/>
<rect x="789" y="310" width="1" height="71" fill="#000"/>
<rect x="784" y="340" width="11" height="8" fill="#000"/>
<rect x="785" y="341" width="9" height="6" fill="#ff0000"/>
<rect x="805" y="306" width="1" height="87" fill="#000"/>
<rect x="800" y="340" width="11" height="36" fill="#000"/>
<rect x="801" y="341" width="9" height="34" fill="#00ff00"/>
<rect x="821" y="359" width="1" height="21" fill="#000"/>
<rect x="816" y="369" width="11" height="7" fill="#000"/>
<rect x="817" y="370" width="9" height="5" fill="#ff0000"/>
<rect x="837" y="367" width="1" height="83" fill="#000"/>
<rect x="832" y="369" width="11" height="55" fill="#000"/>
<rect x="833" y="370" width="9" height="53" fill="#00ff00"/>
<rect x="853" y="403" width="1" height="40" fill="#000"/>
<rect x="848" y="423" width="11" height="11" fill="#000"/>
<rect x="849" y="424" width="9" height="9" fill="#00ff00"/>
<rect x="869" y="403" width="1" height="53" fill="#000"/>
<rect x="864" y="433" width="11" height="5" fill="#000"/>
<rect x="865" y="434" width="9" height="3" fill="#00ff00"/>
<rect x="885" y="377" width="1" height="82" fill="#000"/>
<rect x="880" y="387" width="11" height="51" fill="#000"/>
<rect x="881" y="388" width="9" height="49" fill="#ff0000"/>
<rect x="901" y="296" width="1" height="113" fill="#000"/>
<rect x="896" y="310" width="11" height="78" fill="#000"/>
<rect x="897" y="311" width="9" height="76" fill="#ff0000"/>
<rect x="917" y="309" width="1" height="31" fill="#000"/>
<rect x="912" y="310" width="11" height="15" fill="#000"/>
<rect x="913" y="311" width="9" height="13" fill="#00ff00"/>
<rect x="933" y="301" width="1" height="39" fill="#000"/>
<rect x="928" y="316" width="11" height="10" fill="#000"/>
<rect x="929" y="317" width="9" height="8" fill="#ff0000"/>
<rect x="949" y="285" width="1" height="59" fill="#000"/>
<rect x="944" y="292" width="11" height="26" fill="#000"/>
<rect x="945" y="293" width="9" height="24" fill="#ff0000"/>
<rect x="965" y="287" width="1" height="67" fill="#000"/>
<rect x="960" y="292" width="11" height="59" fill="#000"/>
<rect x="961" y="293" width="9" height="57" fill="#00ff00"/>
<rect x="981" y="296" width="1" height="82" fill="#000"/>
<rect x="976" y="326" width="11" height="25" fill="#000"/>
<rect x="977" y="327" width="9" height="23" fill="#ff0000"/>
<rect x="997" y="285" width="1" height="46" fill="#000"/>
<rect x="992" y="302" width="11" height="25" fill="#000"/>
<rect x="993" y="303" width="9" height="23" fill="#ff0000"/>
<rect x="1013" y="279" width="1" height="13" fill="#000"/>
<rect x="1008" y="279" width="11" height="10" fill="#000"/>
<rect x="1009" y="280" width="9" height="8" fill="#ff0000"/>
<rect x="1029" y="261" width="1" height="40" fill="#000"/>
<rect x="1024" y="279" width="11" height="2" fill="#000"/>
<rect x="1045" y="267" width="1" height="54" fill="#000"/>
<rect x="1040" y="280" width="11" height="15" fill="#000"/>
<rect x="1041" y="281" width="9" height="13" fill="#00ff00"/>
<rect x="1061" y="291" width="1" height="60" fill="#000"/>
<rect x="1056" y="295" width="11" height="54" fill="#000"/>
<rect x="1057" y="296" width="9" height="52" fill="#00ff00"/>
<rect x="1077" y="348" width="1" height="124" fill="#000"/>
<rect x="1072" y="348" width="11" height="106" fill="#000"/>
<rect x="1073" y="349" width="9" height="104" fill="#00ff00"/>
<rect x="1093" y="402" width="1" height="57" fill="#000"/>
<rect x="1088" y="405" width="11" height="50" fill="#000"/>
<rect x="1089" y="406" width="9" height="48" fill="#ff0000"/>
<rect x="1109" y="388" width="1" height="18" fill="#000"/>
<rect x="1104" y="388" width="11" height="18" fill="#000"/>
<rect x="1105" y="389" width="9" height="16" fill="#ff0000"/>
<rect x="1125" y="335" width="1" height="70" fill="#000"/>
<rect x="1120" y="337" width="11" height="51" fill="#000"/>
<rect x="1121" y="338" width="9" height="49" fill="#ff0000"/>
<rect x="1141" y="291" width="1" height="59" fill="#000"/>
<rect x="1136" y="292" width="11" height="46" fill="#000"/>
<rect x="1137" y="293" width="9" height="44" fill="#ff0000"/>
<rect x="1157" y="236" width="1" height="61" fill="#000"/>
<rect x="1152" y="239" width="11" height="54" fill="#000"/>
<rect x="1153" y="240" width="9" height="52" fill="#ff0000"/>
<rect x="1173" y="187" width="1" height="65" fill="#000"/>
<rect x="1168" y="203" width="11" height="38" fill="#000"/>
<rect x="1169" y="204" width="9" height="36" fill="#ff0000"/>
<rect x="1189" y="186" width="1" height="32" fill="#000"/>
<rect x="1184" y="203" width="11" height="7" fill="#000"/>
<rect x="1185" y="204" width="9" height="5" fill="#00ff00"/>
<rect x="1205" y="208" width="1" height="43" fill="#000"/>
<rect x="1200" y="209" width="11" height="37" fill="#000"/>
<rect x="1201" y="210" width="9" height="35" fill="#00ff00"/>
<rect x="1221" y="193" width="1" height="53" fill="#000"/>
<rect x="1216" y="207" width="11" height="39" fill="#000"/>
<rect x="1217" y="208" width="9" height="37" fill="#ff0000"/>
<rect x="1237" y="171" width="1" height="38" fill="#000"/>
<rect x="1232" y="177" width="11" height="31" fill="#000"/>
<rect x="1233" y="178" width="9" height="29" fill="#ff0000"/>
<rect x="1253" y="146" width="1" height="37" fill="#000"/>
<rect x="1248" y="155" width="11" height="23" fill="#000"/>
<rect x="1249" y="156" width="9" height="21" fill="#ff0000"/>
<rect x="1269" y="93" width="1" height="80" fill="#000"/>
<rect x="1264" y="119" width="11" height="37" fill="#000"/>
<rect x="1265" y="120" width="9" height="35" fill="#ff0000"/>
<rect x="1285" y="86" width="1" height="49" fill="#000"/>
<rect x="1280" y="100" width="11" height="20" fill="#000"/>
<rect x="1281" y="101" width="9" height="18" fill="#ff0000"/>
<rect x="1301" y="85" width="1" height="18" fill="#000"/>
<rect x="1296" y="90" width="11" height="12" fill="#000"/>
<rect x="1297" y="91" width="9" height="10" fill="#ff0000"/>
</g>
<g shape-rendering="geometricPrecision"><line x1="1322.7" y1="187.5" x2="1384" y2="132.8" stroke="#e8161e" stroke-width="3.2"/><path d="M1396.5 121.8L1377.5 126.7L1388.9 140.1z" fill="#e8161e"/></g>
<g clip-path="url(#cd)">
<rect x="4" y="657" width="3" height="62" fill="#00ff00"/>
<rect x="20" y="657" width="3" height="50" fill="#00ff00"/>
<rect x="36" y="657" width="3" height="40" fill="#00ff00"/>
<rect x="52" y="657" width="3" height="30" fill="#00ff00"/>
<rect x="68" y="657" width="3" height="22" fill="#00ff00"/>
<rect x="84" y="657" width="3" height="16" fill="#00ff00"/>
<rect x="100" y="657" width="3" height="11" fill="#00ff00"/>
<rect x="116" y="657" width="3" height="12" fill="#00ff00"/>
<rect x="132" y="657" width="3" height="11" fill="#00ff00"/>
<rect x="148" y="657" width="3" height="9" fill="#00ff00"/>
<rect x="164" y="657" width="3" height="9" fill="#00ff00"/>
<rect x="180" y="657" width="3" height="6" fill="#00ff00"/>
<rect x="196" y="657" width="3" height="4" fill="#00ff00"/>
<rect x="212" y="657" width="3" height="6" fill="#00ff00"/>
<rect x="228" y="657" width="3" height="7" fill="#00ff00"/>
<rect x="244" y="657" width="3" height="10" fill="#00ff00"/>
<rect x="260" y="657" width="3" height="11" fill="#00ff00"/>
<rect x="276" y="657" width="3" height="12" fill="#00ff00"/>
<rect x="292" y="657" width="3" height="11" fill="#00ff00"/>
<rect x="308" y="657" width="3" height="12" fill="#00ff00"/>
<rect x="324" y="657" width="3" height="13" fill="#00ff00"/>
<rect x="340" y="657" width="3" height="13" fill="#00ff00"/>
<rect x="356" y="657" width="3" height="16" fill="#00ff00"/>
<rect x="372" y="657" width="3" height="18" fill="#00ff00"/>
<rect x="388" y="657" width="3" height="21" fill="#00ff00"/>
<rect x="404" y="657" width="3" height="16" fill="#00ff00"/>
<rect x="420" y="657" width="3" height="14" fill="#00ff00"/>
<rect x="436" y="657" width="3" height="12" fill="#00ff00"/>
<rect x="452" y="657" width="3" height="11" fill="#00ff00"/>
<rect x="468" y="657" width="3" height="10" fill="#00ff00"/>
<rect x="484" y="657" width="3" height="6" fill="#00ff00"/>
<rect x="500" y="657" width="3" height="1" fill="#00ff00"/>
<rect x="516" y="654" width="3" height="3" fill="#00ff00"/>
<rect x="532" y="649" width="3" height="8" fill="#00ff00"/>
<rect x="548" y="646" width="3" height="11" fill="#00ff00"/>
<rect x="564" y="645" width="3" height="12" fill="#00ff00"/>
<rect x="580" y="647" width="3" height="10" fill="#00ff00"/>
<rect x="596" y="652" width="3" height="5" fill="#00ff00"/>
<rect x="612" y="655" width="3" height="2" fill="#00ff00"/>
<rect x="628" y="656" width="3" height="1" fill="#00ff00"/>
<rect x="644" y="657" width="3" height="4" fill="#00ff00"/>
<rect x="660" y="657" width="3" height="5" fill="#00ff00"/>
<rect x="676" y="657" width="3" height="5" fill="#00ff00"/>
<rect x="692" y="657" width="3" height="4" fill="#00ff00"/>
<rect x="708" y="657" width="3" height="5" fill="#00ff00"/>
<rect x="724" y="657" width="3" height="3" fill="#00ff00"/>
<rect x="740" y="657" width="3" height="1" fill="#00ff00"/>
<rect x="756" y="657" width="3" height="1" fill="#00ff00"/>
<rect x="772" y="653" width="3" height="4" fill="#00ff00"/>
<rect x="788" y="650" width="3" height="7" fill="#00ff00"/>
<rect x="804" y="649" width="3" height="8" fill="#00ff00"/>
<rect x="820" y="648" width="3" height="9" fill="#00ff00"/>
<rect x="836" y="651" width="3" height="6" fill="#00ff00"/>
<rect x="852" y="653" width="3" height="4" fill="#00ff00"/>
<rect x="868" y="656" width="3" height="1" fill="#00ff00"/>
<rect x="884" y="655" width="3" height="2" fill="#00ff00"/>
<rect x="900" y="650" width="3" height="7" fill="#00ff00"/>
<rect x="916" y="646" width="3" height="11" fill="#00ff00"/>
<rect x="932" y="643" width="3" height="14" fill="#00ff00"/>
<rect x="948" y="640" width="3" height="17" fill="#00ff00"/>
<rect x="964" y="640" width="3" height="17" fill="#00ff00"/>
<rect x="980" y="640" width="3" height="17" fill="#00ff00"/>
<rect x="996" y="638" width="3" height="19" fill="#00ff00"/>
<rect x="1012" y="636" width="3" height="21" fill="#00ff00"/>
<rect x="1028" y="634" width="3" height="23" fill="#00ff00"/>
<rect x="1044" y="634" width="3" height="23" fill="#00ff00"/>
<rect x="1060" y="637" width="3" height="20" fill="#00ff00"/>
<rect x="1076" y="646" width="3" height="11" fill="#00ff00"/>
<rect x="1092" y="651" width="3" height="6" fill="#00ff00"/>
<rect x="1108" y="653" width="3" height="4" fill="#00ff00"/>
<rect x="1124" y="652" width="3" height="5" fill="#00ff00"/>
<rect x="1140" y="649" width="3" height="8" fill="#00ff00"/>
<rect x="1156" y="643" width="3" height="14" fill="#00ff00"/>
<rect x="1172" y="636" width="3" height="21" fill="#00ff00"/>
<rect x="1188" y="632" width="3" height="25" fill="#00ff00"/>
<rect x="1204" y="630" width="3" height="27" fill="#00ff00"/>
<rect x="1220" y="628" width="3" height="29" fill="#00ff00"/>
<rect x="1236" y="624" width="3" height="33" fill="#00ff00"/>
<rect x="1252" y="620" width="3" height="37" fill="#00ff00"/>
<rect x="1268" y="615" width="3" height="42" fill="#00ff00"/>
<rect x="1284" y="611" width="3" height="46" fill="#00ff00"/>
<rect x="1300" y="607" width="3" height="50" fill="#00ff00"/>
<polyline points="4,711 5.5,711.0 21.5,711.0 37.5,711.0 53.5,709.7 69.5,706.7 85.5,701.7 101.5,696.2 117.5,690.0 133.5,684.7 149.5,678.7 165.5,674.5 181.5,670.5 197.5,667.2 213.5,665.3 229.5,664.3 245.5,664.2 261.5,664.2 277.5,664.6 293.5,664.8 309.5,665.5 325.5,666.3 341.5,667.3 357.5,668.5 373.5,669.5 389.5,670.5 405.5,670.8 421.5,670.8 437.5,670.8 453.5,670.8 469.5,670.8 485.5,670.8 501.5,669.2 517.5,666.2 533.5,663.3 549.5,660.3 565.5,656.8 581.5,655.3 597.5,653.3 613.5,652.2 629.5,651.8 645.5,651.8 661.5,652.2 677.5,654.5 693.5,655.5 709.5,657.0 725.5,658.3 741.5,658.7 757.5,658.7 773.5,658.7 789.5,658.0 805.5,657.2 821.5,655.3 837.5,654.2 853.5,653.3 869.5,653.0 885.5,653.0 901.5,652.0 917.5,651.2 933.5,650.3 949.5,649.3 965.5,648.5 981.5,647.3 997.5,645.5 1013.5,643.3 1029.5,641.2 1045.5,639.5 1061.5,638.3 1077.5,638.5 1093.5,639.7 1109.5,641.3 1125.5,642.5 1141.5,643.7 1157.5,644.5 1173.5,644.7 1189.5,644.3 1205.5,643.8 1221.5,642.7 1237.5,639.3 1253.5,635.3 1269.5,631.2 1285.5,626.3 1301.5,622.7 1302.6,622.5" fill="none" stroke="#ff0000" stroke-width="2" stroke-linejoin="round"/>
</g>
<text y="613" font-size="9" fill="#000" stroke="#000"><tspan x="9.2" textLength="66.5" lengthAdjust="spacingAndGlyphs">MACD(12,26,9)</tspan><tspan x="75.5" textLength="40.3" lengthAdjust="spacingAndGlyphs"> 0.003430</tspan><tspan x="116.5" textLength="40.5" lengthAdjust="spacingAndGlyphs"> 0.002369</tspan></text>
<line x1="6" y1="748.5" x2="1644" y2="748.5" stroke="#000" stroke-width="1" stroke-dasharray="3 3"/>
<line x1="6" y1="778.5" x2="1644" y2="778.5" stroke="#000" stroke-width="1" stroke-dasharray="3 3"/>
<line x1="6" y1="814.5" x2="1644" y2="814.5" stroke="#000" stroke-width="1" stroke-dasharray="3 3"/>
<g clip-path="url(#cr)">
<polyline points="5.5,798.0 21.5,775.0 37.5,774.8 53.5,771.5 69.5,771.5 85.5,772.0 101.5,772.7 117.5,784.0 133.5,780.2 149.5,777.7 165.5,781.0 181.5,776.2 197.5,776.2 213.5,783.5 229.5,784.7 245.5,784.7 261.5,784.7 277.5,784.7 293.5,779.5 309.5,785.7 325.5,784.7 341.5,784.7 357.5,790.0 373.5,790.0 389.5,791.0 405.5,776.7 421.5,778.5 437.5,779.7 453.5,779.7 469.5,779.7 485.5,774.0 501.5,768.0 517.5,771.7 533.5,768.0 549.5,769.2 565.5,774.0 581.5,777.7 597.5,785.7 613.5,782.0 629.5,782.0 645.5,784.7 661.5,783.5 677.5,780.7 693.5,778.5 709.5,781.0 725.5,777.0 741.5,777.0 757.5,777.0 773.5,769.0 789.5,769.0 805.5,773.7 821.5,773.7 837.5,783.0 853.5,784.0 869.5,784.0 885.5,776.0 901.5,766.7 917.5,769.0 933.5,769.0 949.5,765.7 965.5,775.0 981.5,772.2 997.5,769.5 1013.5,767.2 1029.5,767.2 1045.5,769.2 1061.5,778.5 1077.5,790.2 1093.5,783.2 1109.5,782.0 1125.5,776.5 1141.5,771.5 1157.5,766.2 1173.5,764.0 1189.5,764.0 1205.5,769.0 1221.5,766.2 1237.5,764.3 1253.5,762.0 1269.5,759.3 1285.5,758.0 1301.5,757.7 1302.6,757.7" fill="none" stroke="#1e90ff" stroke-width="2" stroke-linejoin="round"/>
</g>
<text x="9" y="739" font-size="9" fill="#000" stroke="#000" textLength="67.5" lengthAdjust="spacingAndGlyphs">RSI(14) 70.8972</text>
<rect x="1645" y="34" width="2" height="1" fill="#000"/>
<text x="1650.5" y="38" font-size="9" fill="#000" stroke="#000" textLength="32.5" lengthAdjust="spacingAndGlyphs">1.33790</text>
<rect x="1645" y="67" width="2" height="1" fill="#000"/>
<text x="1650.5" y="71" font-size="9" fill="#000" stroke="#000" textLength="32.5" lengthAdjust="spacingAndGlyphs">1.33620</text>
<rect x="1645" y="100" width="2" height="1" fill="#000"/>
<text x="1650.5" y="104" font-size="9" fill="#000" stroke="#000" textLength="32.5" lengthAdjust="spacingAndGlyphs">1.33445</text>
<rect x="1645" y="133" width="2" height="1" fill="#000"/>
<text x="1650.5" y="137" font-size="9" fill="#000" stroke="#000" textLength="32.5" lengthAdjust="spacingAndGlyphs">1.33275</text>
<rect x="1645" y="166" width="2" height="1" fill="#000"/>
<text x="1650.5" y="170" font-size="9" fill="#000" stroke="#000" textLength="32.5" lengthAdjust="spacingAndGlyphs">1.33100</text>
<rect x="1645" y="199" width="2" height="1" fill="#000"/>
<text x="1650.5" y="203" font-size="9" fill="#000" stroke="#000" textLength="32.5" lengthAdjust="spacingAndGlyphs">1.32925</text>
<rect x="1645" y="232" width="2" height="1" fill="#000"/>
<text x="1650.5" y="236" font-size="9" fill="#000" stroke="#000" textLength="32.5" lengthAdjust="spacingAndGlyphs">1.32755</text>
<rect x="1645" y="265" width="2" height="1" fill="#000"/>
<text x="1650.5" y="269" font-size="9" fill="#000" stroke="#000" textLength="32.5" lengthAdjust="spacingAndGlyphs">1.32580</text>
<rect x="1645" y="298" width="2" height="1" fill="#000"/>
<text x="1650.5" y="302" font-size="9" fill="#000" stroke="#000" textLength="32.5" lengthAdjust="spacingAndGlyphs">1.32410</text>
<rect x="1645" y="331" width="2" height="1" fill="#000"/>
<text x="1650.5" y="335" font-size="9" fill="#000" stroke="#000" textLength="32.5" lengthAdjust="spacingAndGlyphs">1.32235</text>
<rect x="1645" y="364" width="2" height="1" fill="#000"/>
<text x="1650.5" y="368" font-size="9" fill="#000" stroke="#000" textLength="32.5" lengthAdjust="spacingAndGlyphs">1.32065</text>
<rect x="1645" y="397" width="2" height="1" fill="#000"/>
<text x="1650.5" y="401" font-size="9" fill="#000" stroke="#000" textLength="32.5" lengthAdjust="spacingAndGlyphs">1.31890</text>
<rect x="1645" y="430" width="2" height="1" fill="#000"/>
<text x="1650.5" y="434" font-size="9" fill="#000" stroke="#000" textLength="32.5" lengthAdjust="spacingAndGlyphs">1.31715</text>
<rect x="1645" y="463" width="2" height="1" fill="#000"/>
<text x="1650.5" y="467" font-size="9" fill="#000" stroke="#000" textLength="32.5" lengthAdjust="spacingAndGlyphs">1.31545</text>
<rect x="1645" y="496" width="2" height="1" fill="#000"/>
<text x="1650.5" y="500" font-size="9" fill="#000" stroke="#000" textLength="32.5" lengthAdjust="spacingAndGlyphs">1.31370</text>
<rect x="1645" y="529" width="2" height="1" fill="#000"/>
<text x="1650.5" y="533" font-size="9" fill="#000" stroke="#000" textLength="32.5" lengthAdjust="spacingAndGlyphs">1.31200</text>
<rect x="1645" y="562" width="2" height="1" fill="#000"/>
<text x="1650.5" y="566" font-size="9" fill="#000" stroke="#000" textLength="32.5" lengthAdjust="spacingAndGlyphs">1.31025</text>
<rect x="1645" y="595" width="2" height="1" fill="#000"/>
<text x="1650.5" y="599" font-size="9" fill="#000" stroke="#000" textLength="32.5" lengthAdjust="spacingAndGlyphs">1.30855</text>
<rect x="1645" y="657" width="2" height="1" fill="#000"/>
<text x="1648" y="611" font-size="9" fill="#000" stroke="#000" textLength="37.3" lengthAdjust="spacingAndGlyphs">0.003812</text>
<text x="1648" y="661" font-size="9" fill="#000" stroke="#000" textLength="17.8" lengthAdjust="spacingAndGlyphs">0.00</text>
<text x="1648" y="721" font-size="9" fill="#000" stroke="#000" textLength="41" lengthAdjust="spacingAndGlyphs">-0.004584</text>
<text x="1648" y="737" font-size="9" fill="#000" stroke="#000" textLength="15" lengthAdjust="spacingAndGlyphs">100</text>
<text x="1647" y="752" font-size="9" fill="#000" stroke="#000" textLength="10" lengthAdjust="spacingAndGlyphs">80</text>
<text x="1647" y="782" font-size="9" fill="#000" stroke="#000" textLength="10" lengthAdjust="spacingAndGlyphs">50</text>
<text x="1647.3" y="818" font-size="9" fill="#000" stroke="#000" textLength="10" lengthAdjust="spacingAndGlyphs">15</text>
<text x="1648" y="827" font-size="9" fill="#000" stroke="#000" textLength="5" lengthAdjust="spacingAndGlyphs">0</text>
<rect x="1645" y="602" width="1" height="1" fill="#000"/>
<rect x="1645" y="723" width="1" height="1" fill="#000"/>
<rect x="1645" y="728" width="1" height="1" fill="#000"/>
<rect x="1645" y="829" width="1" height="1" fill="#000"/>
<rect x="1646" y="34" width="41" height="11" fill="#ff0000"/>
<text x="1650.5" y="43" font-size="9" fill="#fff" stroke="#fff" textLength="32.5" lengthAdjust="spacingAndGlyphs">1.33758</text>
<rect x="1646" y="58" width="41" height="11" fill="#ff0000"/>
<text x="1650.5" y="67" font-size="9" fill="#fff" stroke="#fff" textLength="32.5" lengthAdjust="spacingAndGlyphs">1.33636</text>
<rect x="1646" y="100" width="41" height="11" fill="#00bfff"/>
<text x="1650.5" y="109" font-size="9" fill="#fff" stroke="#fff" textLength="32.5" lengthAdjust="spacingAndGlyphs">1.33413</text>
<rect x="1646" y="127" width="41" height="11" fill="#0000ff"/>
<text x="1650.5" y="136" font-size="9" fill="#fff" stroke="#fff" textLength="32.5" lengthAdjust="spacingAndGlyphs">1.33272</text>
<rect x="1646" y="153" width="41" height="11" fill="#0000ff"/>
<text x="1650.5" y="162" font-size="9" fill="#fff" stroke="#fff" textLength="32.5" lengthAdjust="spacingAndGlyphs">1.33135</text>
<rect x="1646" y="85" width="41" height="11" fill="#000"/>
<text x="1650.5" y="94" font-size="9" fill="#fff" stroke="#fff" textLength="32.5" lengthAdjust="spacingAndGlyphs">1.33500</text>
<rect x="5" y="831" width="1" height="3" fill="#000"/>
<text x="4.3" y="843" font-size="9" fill="#000" stroke="#000" textLength="47.2" lengthAdjust="spacingAndGlyphs">14 Jul 2023</text>
<rect x="69" y="831" width="1" height="3" fill="#000"/>
<text x="68.3" y="843" font-size="9" fill="#000" stroke="#000" textLength="50" lengthAdjust="spacingAndGlyphs">17 Jul 00:00</text>
<rect x="133" y="831" width="1" height="3" fill="#000"/>
<text x="132.3" y="843" font-size="9" fill="#000" stroke="#000" textLength="50" lengthAdjust="spacingAndGlyphs">17 Jul 16:00</text>
<rect x="197" y="831" width="1" height="3" fill="#000"/>
<text x="196.3" y="843" font-size="9" fill="#000" stroke="#000" textLength="50" lengthAdjust="spacingAndGlyphs">18 Jul 08:00</text>
<rect x="261" y="831" width="1" height="3" fill="#000"/>
<text x="260.3" y="843" font-size="9" fill="#000" stroke="#000" textLength="50" lengthAdjust="spacingAndGlyphs">19 Jul 00:00</text>
<rect x="325" y="831" width="1" height="3" fill="#000"/>
<text x="324.3" y="843" font-size="9" fill="#000" stroke="#000" textLength="50" lengthAdjust="spacingAndGlyphs">19 Jul 16:00</text>
<rect x="389" y="831" width="1" height="3" fill="#000"/>
<text x="388.3" y="843" font-size="9" fill="#000" stroke="#000" textLength="50" lengthAdjust="spacingAndGlyphs">20 Jul 08:00</text>
<rect x="453" y="831" width="1" height="3" fill="#000"/>
<text x="452.3" y="843" font-size="9" fill="#000" stroke="#000" textLength="50" lengthAdjust="spacingAndGlyphs">21 Jul 00:00</text>
<rect x="517" y="831" width="1" height="3" fill="#000"/>
<text x="516.3" y="843" font-size="9" fill="#000" stroke="#000" textLength="50" lengthAdjust="spacingAndGlyphs">21 Jul 16:00</text>
<rect x="581" y="831" width="1" height="3" fill="#000"/>
<text x="580.3" y="843" font-size="9" fill="#000" stroke="#000" textLength="50" lengthAdjust="spacingAndGlyphs">24 Jul 08:00</text>
<rect x="645" y="831" width="1" height="3" fill="#000"/>
<text x="644.3" y="843" font-size="9" fill="#000" stroke="#000" textLength="50" lengthAdjust="spacingAndGlyphs">25 Jul 00:00</text>
<rect x="709" y="831" width="1" height="3" fill="#000"/>
<text x="708.3" y="843" font-size="9" fill="#000" stroke="#000" textLength="50" lengthAdjust="spacingAndGlyphs">25 Jul 16:00</text>
<rect x="773" y="831" width="1" height="3" fill="#000"/>
<text x="772.3" y="843" font-size="9" fill="#000" stroke="#000" textLength="50" lengthAdjust="spacingAndGlyphs">26 Jul 08:00</text>
<rect x="837" y="831" width="1" height="3" fill="#000"/>
<text x="836.3" y="843" font-size="9" fill="#000" stroke="#000" textLength="50" lengthAdjust="spacingAndGlyphs">27 Jul 00:00</text>
<rect x="901" y="831" width="1" height="3" fill="#000"/>
<text x="900.3" y="843" font-size="9" fill="#000" stroke="#000" textLength="50" lengthAdjust="spacingAndGlyphs">27 Jul 16:00</text>
<rect x="965" y="831" width="1" height="3" fill="#000"/>
<text x="964.3" y="843" font-size="9" fill="#000" stroke="#000" textLength="50" lengthAdjust="spacingAndGlyphs">28 Jul 08:00</text>
<rect x="1029" y="831" width="1" height="3" fill="#000"/>
<text x="1028.3" y="843" font-size="9" fill="#000" stroke="#000" textLength="50" lengthAdjust="spacingAndGlyphs">31 Jul 00:00</text>
<rect x="1093" y="831" width="1" height="3" fill="#000"/>
<text x="1092.3" y="843" font-size="9" fill="#000" stroke="#000" textLength="50" lengthAdjust="spacingAndGlyphs">31 Jul 16:00</text>
<rect x="1157" y="831" width="1" height="3" fill="#000"/>
<text x="1156.3" y="843" font-size="9" fill="#000" stroke="#000" textLength="50.8" lengthAdjust="spacingAndGlyphs">1 Aug 08:00</text>
<rect x="1221" y="831" width="1" height="3" fill="#000"/>
<text x="1220.3" y="843" font-size="9" fill="#000" stroke="#000" textLength="50.8" lengthAdjust="spacingAndGlyphs">2 Aug 00:00</text>
<rect x="1285" y="831" width="1" height="3" fill="#000"/>
<text x="1284.3" y="843" font-size="9" fill="#000" stroke="#000" textLength="50.8" lengthAdjust="spacingAndGlyphs">2 Aug 16:00</text>
</svg></body></html>
